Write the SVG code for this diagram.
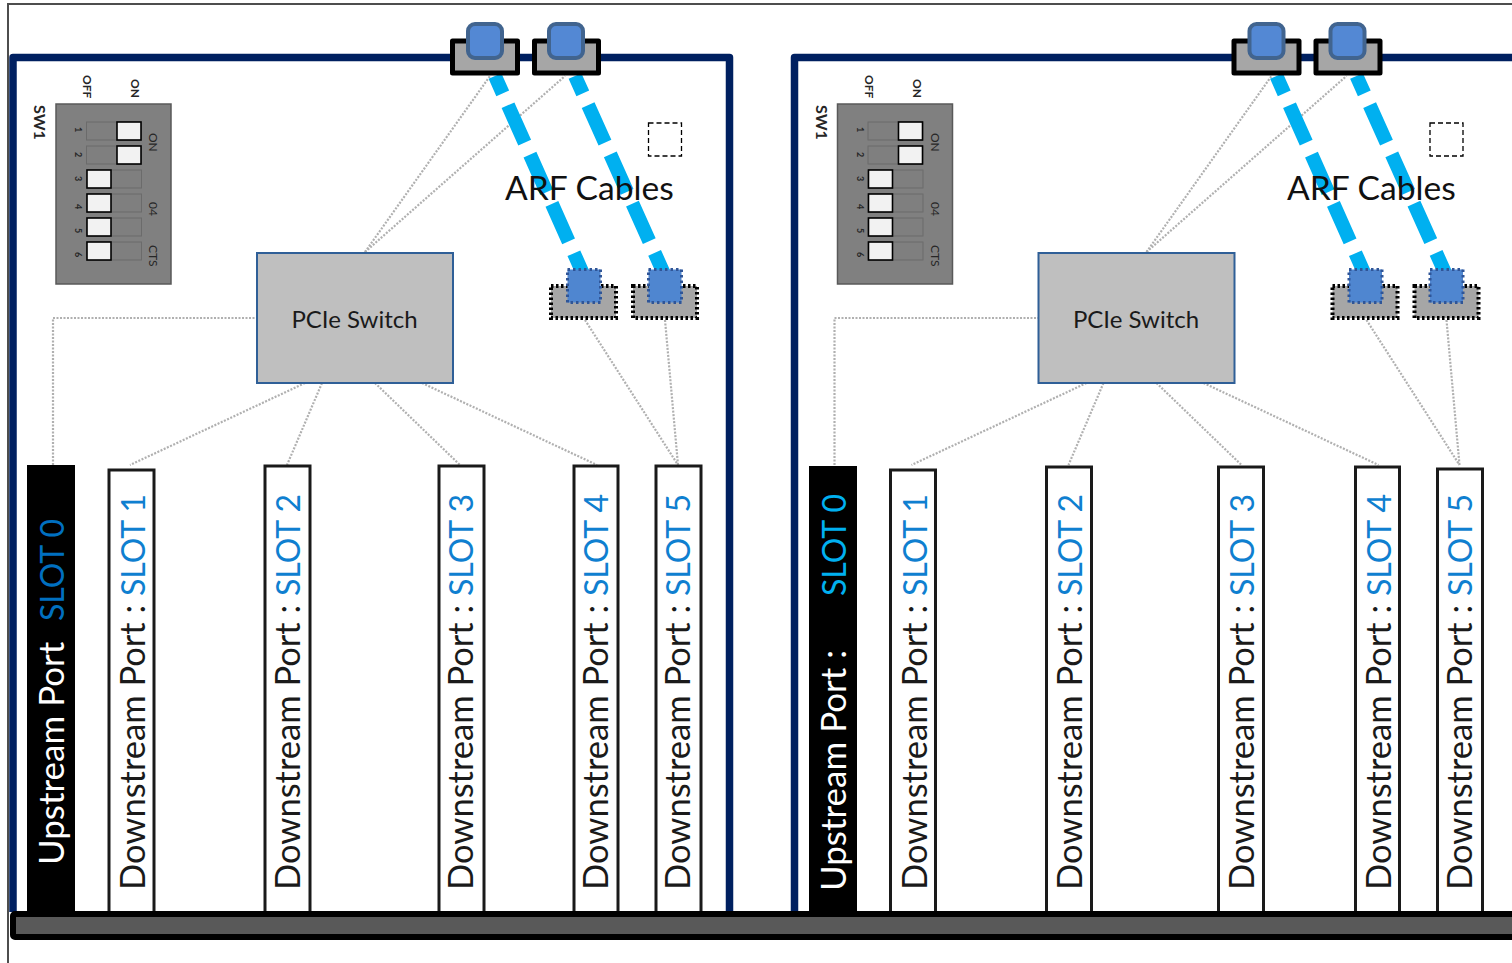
<svg xmlns="http://www.w3.org/2000/svg" width="1512" height="963" viewBox="0 0 1512 963">
<style>
text{font-family:Lato,"Open Sans","Liberation Sans",sans-serif}
.frame{fill:none;stroke:#002060;stroke-width:7.5;stroke-linejoin:round}
.dip{fill:#808080;stroke:#595959;stroke-width:1.5}
.track{fill:#7f7f7f;stroke:#6b6b6b;stroke-width:1}
.knob{fill:#f2f2f2;stroke:#000;stroke-width:1.6}
.dl{font-size:12px;fill:#262626}
.hd{font-weight:700}
.sn{font-size:16px;font-weight:700}
.dn{font-size:9px;font-weight:700;fill:#262626}
.usb{fill:#a6a6a6;stroke:#000;stroke-width:5;stroke-linejoin:round}
.plug{fill:#5388d4;stroke:#41648f;stroke-width:4}
.usbd{fill:#a6a6a6;stroke:#000;stroke-width:4;stroke-dasharray:2.5 2.5}
.plugd{fill:#4f86d0;stroke:#2f5597;stroke-width:3;stroke-dasharray:2.5 3}
.cable{fill:none;stroke:#00b0f0;stroke-width:14;stroke-dasharray:41 13;stroke-dashoffset:22}
.wire{fill:none;stroke:#b0b0b0;stroke-width:2.2;stroke-dasharray:2 1.5}
.sw{fill:#bfbfbf;stroke:#2f5f97;stroke-width:2}
.swt{font-size:24px;fill:#1a1a1a;text-anchor:middle}
.arf{font-size:33.600px;fill:#111}
.ds{fill:#fff;stroke:#1a1a1a;stroke-width:3}
.us{fill:#000}
.slt{font-size:34.500px;fill:#1a1a1a}
.b{fill:#0f7fd0;font-size:32px}
.ut{font-size:35px;fill:#fff}
.u1{font-size:32px;fill:#0070c0}
.u2{font-size:32px;fill:#00b0f0}
.mark{fill:none;stroke:#000;stroke-width:1.3;stroke-dasharray:5 3}
</style>
<path d="M1512 4H8V963" fill="none" stroke="#4d4d4d" stroke-width="2"/>
<g id="panel-frames">
<path class="frame" d="M13 912V57.500H729.500V912"/>
<path class="frame" d="M794.500 912V57.500H1512"/>
</g>
<g id="connectors">
<path class="wire" d="M53 465V318H257"/>
<path class="wire" d="M365 252L490 76"/>
<path class="wire" d="M365 252L565 76"/>
<path class="wire" d="M305 383L130 465"/>
<path class="wire" d="M322 383L287 465"/>
<path class="wire" d="M375 383L460 465"/>
<path class="wire" d="M422 383L597 465"/>
<path class="wire" d="M585 320L678 465"/>
<path class="wire" d="M665 320L678 465"/>
<path class="wire" d="M834.500 465V318H1038.500"/>
<path class="wire" d="M1146.500 252L1271.500 76"/>
<path class="wire" d="M1146.500 252L1346.500 76"/>
<path class="wire" d="M1086.500 383L911.500 465"/>
<path class="wire" d="M1103.500 383L1068.500 465"/>
<path class="wire" d="M1156.500 383L1241.500 465"/>
<path class="wire" d="M1203.500 383L1378.500 465"/>
<path class="wire" d="M1366.500 320L1459.500 465"/>
<path class="wire" d="M1446.500 320L1459.500 465"/>
</g>
<g id="switch-1"><rect class="sw" x="257" y="253" width="196" height="130"/><text class="swt" x="354.500" y="327.500">PCIe Switch</text></g>
<g id="switch-2"><rect class="sw" x="1038.500" y="253" width="196" height="130"/><text class="swt" x="1136" y="327.500">PCIe Switch</text></g>
<g id="dip-1">
<rect class="dip" x="56" y="104" width="115" height="180"/>
<text class="dl sn" transform="translate(34 105) rotate(90)">SW1</text>
<text class="dl hd" transform="translate(83 75) rotate(90)">OFF</text>
<text class="dl hd" transform="translate(131 79) rotate(90)">ON</text>
<text class="dl" transform="translate(149 133) rotate(90)">ON</text>
<text class="dl" transform="translate(149 202) rotate(90)">04</text>
<text class="dl" transform="translate(149 245) rotate(90)">CTS</text>
<text class="dn" transform="translate(75 127) rotate(90)">1</text><text class="dn" transform="translate(75 152) rotate(90)">2</text><text class="dn" transform="translate(75 176) rotate(90)">3</text><text class="dn" transform="translate(75 204) rotate(90)">4</text><text class="dn" transform="translate(75 228) rotate(90)">5</text><text class="dn" transform="translate(75 252) rotate(90)">6</text>
<rect class="track" x="86.500" y="122" width="55" height="18"/><rect class="track" x="86.500" y="146" width="55" height="18"/><rect class="track" x="86.500" y="170" width="55" height="18"/><rect class="track" x="86.500" y="194" width="55" height="18"/><rect class="track" x="86.500" y="218" width="55" height="18"/><rect class="track" x="86.500" y="242" width="55" height="18"/>
<rect class="knob" x="117" y="122" width="24" height="18"/><rect class="knob" x="117" y="146" width="24" height="18"/><rect class="knob" x="87" y="170" width="24" height="18"/><rect class="knob" x="87" y="194" width="24" height="18"/><rect class="knob" x="87" y="218" width="24" height="18"/><rect class="knob" x="87" y="242" width="24" height="18"/>
</g>
<g id="dip-2">
<rect class="dip" x="837.500" y="104" width="115" height="180"/>
<text class="dl sn" transform="translate(815.500 105) rotate(90)">SW1</text>
<text class="dl hd" transform="translate(864.500 75) rotate(90)">OFF</text>
<text class="dl hd" transform="translate(912.500 79) rotate(90)">ON</text>
<text class="dl" transform="translate(930.500 133) rotate(90)">ON</text>
<text class="dl" transform="translate(930.500 202) rotate(90)">04</text>
<text class="dl" transform="translate(930.500 245) rotate(90)">CTS</text>
<text class="dn" transform="translate(856.500 127) rotate(90)">1</text><text class="dn" transform="translate(856.500 152) rotate(90)">2</text><text class="dn" transform="translate(856.500 176) rotate(90)">3</text><text class="dn" transform="translate(856.500 204) rotate(90)">4</text><text class="dn" transform="translate(856.500 228) rotate(90)">5</text><text class="dn" transform="translate(856.500 252) rotate(90)">6</text>
<rect class="track" x="868" y="122" width="55" height="18"/><rect class="track" x="868" y="146" width="55" height="18"/><rect class="track" x="868" y="170" width="55" height="18"/><rect class="track" x="868" y="194" width="55" height="18"/><rect class="track" x="868" y="218" width="55" height="18"/><rect class="track" x="868" y="242" width="55" height="18"/>
<rect class="knob" x="898.500" y="122" width="24" height="18"/><rect class="knob" x="898.500" y="146" width="24" height="18"/><rect class="knob" x="868.500" y="170" width="24" height="18"/><rect class="knob" x="868.500" y="194" width="24" height="18"/><rect class="knob" x="868.500" y="218" width="24" height="18"/><rect class="knob" x="868.500" y="242" width="24" height="18"/>
</g>
<g id="cables">
<path class="cable" d="M495 76L584 276"/>
<path class="cable" d="M575 76L665 276"/>
<path class="cable" d="M1276.500 76L1365.500 276"/>
<path class="cable" d="M1356.500 76L1446.500 276"/>
</g>
<g id="port-top-1a"><rect class="usb" x="452.500" y="41" width="65" height="32"/><rect class="plug" x="468" y="24" width="34" height="34" rx="7"/></g>
<g id="port-top-1b"><rect class="usb" x="534.500" y="41" width="64" height="32"/><rect class="plug" x="549" y="24" width="34" height="34" rx="7"/></g>
<g id="port-top-2a"><rect class="usb" x="1234" y="41" width="65" height="32"/><rect class="plug" x="1249.500" y="24" width="34" height="34" rx="7"/></g>
<g id="port-top-2b"><rect class="usb" x="1316" y="41" width="64" height="32"/><rect class="plug" x="1330.500" y="24" width="34" height="34" rx="7"/></g>
<g id="port-bot-1a"><rect class="usbd" x="551" y="286" width="65" height="32"/><rect class="plugd" x="567.500" y="269.500" width="33" height="33"/></g>
<g id="port-bot-1b"><rect class="usbd" x="633" y="286" width="64" height="32"/><rect class="plugd" x="648.500" y="269.500" width="33" height="33"/></g>
<g id="port-bot-2a"><rect class="usbd" x="1332.500" y="286" width="65" height="32"/><rect class="plugd" x="1349" y="269.500" width="33" height="33"/></g>
<g id="port-bot-2b"><rect class="usbd" x="1414.500" y="286" width="64" height="32"/><rect class="plugd" x="1430" y="269.500" width="33" height="33"/></g>
<rect class="mark" x="648.500" y="123" width="33" height="33"/>
<rect class="mark" x="1430" y="123" width="33" height="33"/>
<text class="arf" x="505" y="200">ARF Cables</text>
<text class="arf" x="1287" y="200">ARF Cables</text>
<g id="slot0-1"><rect class="us" x="27" y="465" width="48" height="450"/><text class="ut" transform="translate(64 865) rotate(-90)">Upstream Port</text><text class="u1" transform="translate(64 621) rotate(-90)">SLOT 0</text></g>
<g id="slot1-1"><rect class="ds" x="109" y="470" width="45" height="445"/><text class="slt" transform="translate(145 890) rotate(-90)">Downstream Port : <tspan class="b">SLOT 1</tspan></text></g>
<g id="slot2-1"><rect class="ds" x="265" y="466" width="45" height="449"/><text class="slt" transform="translate(300 890) rotate(-90)">Downstream Port : <tspan class="b">SLOT 2</tspan></text></g>
<g id="slot3-1"><rect class="ds" x="439" y="466" width="45" height="449"/><text class="slt" transform="translate(473 890) rotate(-90)">Downstream Port : <tspan class="b">SLOT 3</tspan></text></g>
<g id="slot4-1"><rect class="ds" x="574" y="466" width="44" height="449"/><text class="slt" transform="translate(608 890) rotate(-90)">Downstream Port : <tspan class="b">SLOT 4</tspan></text></g>
<g id="slot5-1"><rect class="ds" x="656" y="466" width="45" height="449"/><text class="slt" transform="translate(690 890) rotate(-90)">Downstream Port : <tspan class="b">SLOT 5</tspan></text></g>
<g id="slot0-2"><rect class="us" x="809" y="466" width="48" height="449"/><text class="ut" transform="translate(846 891) rotate(-90)">Upstream Port :</text><text class="u2" transform="translate(846 596) rotate(-90)">SLOT 0</text></g>
<g id="slot1-2"><rect class="ds" x="890.500" y="470" width="45" height="445"/><text class="slt" transform="translate(926.500 890) rotate(-90)">Downstream Port : <tspan class="b">SLOT 1</tspan></text></g>
<g id="slot2-2"><rect class="ds" x="1046.500" y="467" width="45" height="448"/><text class="slt" transform="translate(1081.500 890) rotate(-90)">Downstream Port : <tspan class="b">SLOT 2</tspan></text></g>
<g id="slot3-2"><rect class="ds" x="1218.500" y="467" width="45" height="448"/><text class="slt" transform="translate(1254 890) rotate(-90)">Downstream Port : <tspan class="b">SLOT 3</tspan></text></g>
<g id="slot4-2"><rect class="ds" x="1355.500" y="467" width="44" height="448"/><text class="slt" transform="translate(1390.500 890) rotate(-90)">Downstream Port : <tspan class="b">SLOT 4</tspan></text></g>
<g id="slot5-2"><rect class="ds" x="1437.500" y="469" width="45" height="446"/><text class="slt" transform="translate(1472 890) rotate(-90)">Downstream Port : <tspan class="b">SLOT 5</tspan></text></g>
<g id="bus"><rect x="13" y="914" width="1510" height="23" rx="2" fill="#595959" stroke="#000" stroke-width="6"/></g>
</svg>
